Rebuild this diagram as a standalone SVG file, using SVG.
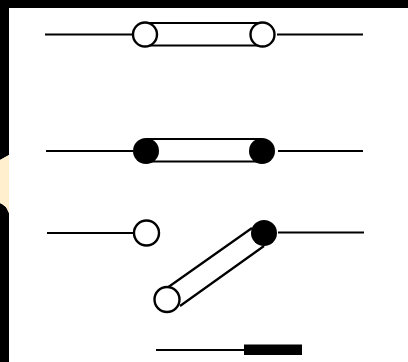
<svg xmlns="http://www.w3.org/2000/svg" width="408" height="362" viewBox="0 0 408 362">
<style>
.w{fill:none;stroke:#000;stroke-width:2}
.t{fill:none;stroke:#000;stroke-width:2.2}
.o{fill:#fff;stroke:#000;stroke-width:2.4}
.f{fill:#000}
</style>
<rect width="408" height="362" fill="#fff"/>
<g id="frame">
<path d="M0 0H408V8H9V155L0 160ZM0 203Q6 205 9 213V362H0Z" fill="#000"/>
<path d="M0 160L9 155V213Q6 205 0 203Z" fill="#ffefcf"/>
</g>
<g id="connectors">
<path class="w" d="M45 34.500H133M277 34.500H363M46 151H133M278 151H363M47 233H133M278 232.500H364M156 350H245"/>
</g>
<g id="switch-open">
<path class="t" d="M145 23H262M145 45.500H262"/>
<circle class="o" cx="145" cy="34.500" r="12"/>
<circle class="o" cx="262.500" cy="34.500" r="12"/>
</g>
<g id="switch-closed">
<path class="t" d="M146 139H262M146 161.500H262"/>
<circle class="f" cx="146" cy="151" r="13"/>
<circle class="f" cx="262" cy="151" r="13"/>
</g>
<g id="switch-tilted">
<circle class="o" cx="146.500" cy="233" r="12.500"/>
<path class="t" d="M167 288L252 228M180 306L264 246"/>
<circle class="o" cx="167" cy="299.500" r="12.500"/>
<circle class="f" cx="264" cy="233" r="13"/>
</g>
<g id="bar">
<rect class="f" x="244" y="344.500" width="58" height="10.500"/>
</g>
</svg>
